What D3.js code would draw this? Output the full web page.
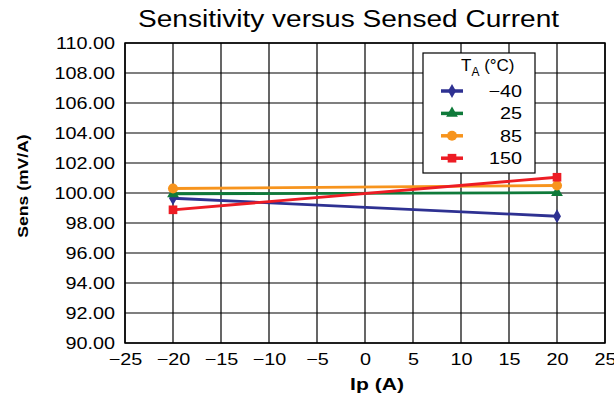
<!DOCTYPE html>
<html><head><meta charset="utf-8">
<script src="https://cdn.jsdelivr.net/npm/d3@7"></script>
<style>body{margin:0;background:#fff}svg{display:block}text{font-family:"Liberation Sans",Arial,sans-serif}</style>
</head><body>
<script>
const currents = [-20, 20];
const seriesNames = ["\u221240", "25", "85", "150"];
const seriesColors = ["#2e3192", "#0f7a3a", "#f7941d", "#ed1c24"];
const seriesShapes = ["diamond", "triangle", "circle", "square"];
const valsM40 = [99.65, 98.45];
const vals25 = [99.95, 100.02];
const vals85 = [100.3, 100.5];
const vals150 = [98.88, 101.05];
const xTicks = [-25, -20, -15, -10, -5, 0, 5, 10, 15, 20, 25];
const yTicks = [90, 92, 94, 96, 98, 100, 102, 104, 106, 108, 110];
const seriesVals = [valsM40, vals25, vals85, vals150];

const W = 614, H = 400;
const m = {l: 125, r: 9, t: 43, b: 57};
const svg = d3.select("body").append("svg").attr("width", W).attr("height", H);
const x = d3.scaleLinear().domain([-25, 25]).range([m.l, W - m.r]);
const y = d3.scaleLinear().domain([90, 110]).range([H - m.b, m.t]);

function stretch(sel, f) {
  sel.each(function () {
    const len = this.getComputedTextLength();
    d3.select(this).attr("textLength", len * f).attr("lengthAdjust", "spacingAndGlyphs");
  });
}

// grid
svg.append("g").selectAll("line").data(xTicks).join("line")
  .attr("x1", d => x(d)).attr("x2", d => x(d)).attr("y1", y(90)).attr("y2", y(110))
  .attr("stroke", "#000").attr("stroke-width", 1.2);
svg.append("g").selectAll("line").data(yTicks).join("line")
  .attr("y1", d => y(d)).attr("y2", d => y(d)).attr("x1", x(-25)).attr("x2", x(25))
  .attr("stroke", "#000").attr("stroke-width", 1.2);
svg.append("rect").attr("x", x(-25)).attr("y", y(110)).attr("width", x(25) - x(-25)).attr("height", y(90) - y(110))
  .attr("fill", "none").attr("stroke", "#000").attr("stroke-width", 1.5);

// axes
const xAxis = svg.append("g").attr("transform", `translate(0,${y(90)})`)
  .call(d3.axisBottom(x).tickValues(xTicks).tickSize(0).tickPadding(10).tickFormat(d => d < 0 ? "\u2212" + Math.abs(d) : d));
xAxis.select(".domain").remove();
xAxis.selectAll("text").attr("font-size", 16.5).attr("fill", "#000").attr("font-family", "Liberation Sans, Arial, sans-serif");
stretch(xAxis.selectAll("text"), 1.2);
const yAxis = svg.append("g").attr("transform", `translate(${x(-25)},0)`)
  .call(d3.axisLeft(y).tickValues(yTicks).tickSize(0).tickPadding(10).tickFormat(d3.format(".2f")));
yAxis.select(".domain").remove();
yAxis.selectAll("text").attr("font-size", 16.5).attr("fill", "#000").attr("font-family", "Liberation Sans, Arial, sans-serif");
stretch(yAxis.selectAll("text"), 1.2);

// titles
const title = svg.append("text").attr("x", 348.5).attr("y", 27).attr("text-anchor", "middle").attr("font-size", 23).text("Sensitivity versus Sensed Current");
stretch(title, 1.22);
const xl = svg.append("text").attr("x", 377).attr("y", 390).attr("text-anchor", "middle").attr("font-size", 17).attr("font-weight", "bold").text("Ip (A)");
stretch(xl, 1.24);
const yl = svg.append("text").attr("transform", `translate(28,186) rotate(-90)`).attr("text-anchor", "middle").attr("font-size", 15).attr("font-weight", "bold").text("Sens (mV/A)");
stretch(yl, 1.17);

const symType = {diamond: d3.symbolDiamond, triangle: d3.symbolTriangle, circle: d3.symbolCircle, square: d3.symbolSquare};
const symSize = {diamond: 55, triangle: 60, circle: 80, square: 75};
const line = d3.line().x(d => x(d[0])).y(d => y(d[1]));

seriesVals.forEach((vals, i) => {
  const pts = currents.map((c, j) => [c, vals[j]]);
  svg.append("path").datum(pts).attr("d", line).attr("fill", "none").attr("stroke", seriesColors[i]).attr("stroke-width", 2.8);
  svg.append("g").selectAll("path").data(pts).join("path")
    .attr("transform", d => `translate(${x(d[0])},${y(d[1])})`)
    .attr("d", d3.symbol().type(symType[seriesShapes[i]]).size(symSize[seriesShapes[i]]))
    .attr("fill", seriesColors[i]);
});

// legend
const lg = svg.append("g");
lg.append("rect").attr("x", 423).attr("y", 53).attr("width", 112).attr("height", 120).attr("fill", "#fff").attr("stroke", "#000").attr("stroke-width", 1.2);
const lt = lg.append("text").attr("x", 461).attr("y", 71).attr("font-size", 17);
lt.append("tspan").text("T");
lt.append("tspan").attr("font-size", 12).attr("dy", 5).text("A");
lt.append("tspan").attr("dy", -5).text(" (\u00b0C)");
seriesNames.forEach((n, i) => {
  const yy = 91 + i * 22.4;
  lg.append("line").attr("x1", 441).attr("x2", 463).attr("y1", yy).attr("y2", yy).attr("stroke", seriesColors[i]).attr("stroke-width", 3.5);
  lg.append("path").attr("transform", `translate(452,${yy})`)
    .attr("d", d3.symbol().type(symType[seriesShapes[i]]).size(symSize[seriesShapes[i]]))
    .attr("fill", seriesColors[i]);
  const t = lg.append("text").attr("x", 522).attr("y", yy + 6).attr("text-anchor", "end").attr("font-size", 16.5).text(n);
  stretch(t, 1.2);
});
</script>
</body></html>
